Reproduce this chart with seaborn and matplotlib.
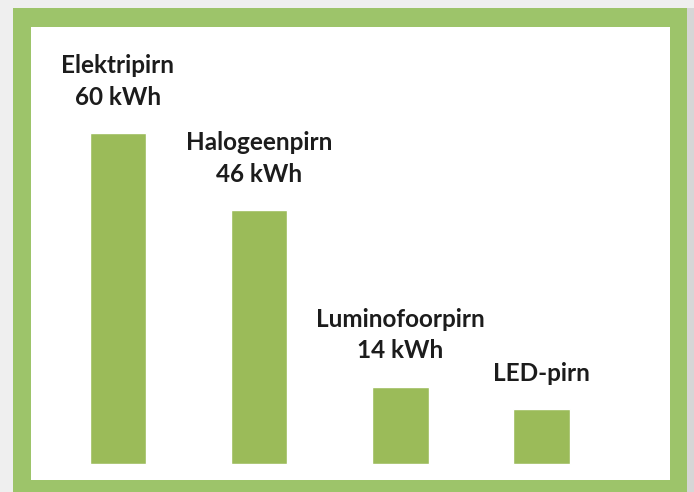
import matplotlib
matplotlib.use("Agg")
import matplotlib.pyplot as plt
from matplotlib.patches import Rectangle
import seaborn as sns
import pandas as pd

# Data
names = ["Elektripirn", "Halogeenpirn", "Luminofoorpirn", "LED-pirn"]
values = [60, 46, 14, 10]
value_texts = ["60 kWh", "46 kWh", "14 kWh", None]

sns.set_theme(style="white")
plt.rcParams["font.family"] = ["Lato", "DejaVu Sans"]

W, H = 694, 492
fig = plt.figure(figsize=(W / 100, H / 100), dpi=100)
fig.patch.set_facecolor("#efefef")

# green frame
fig.patches.append(Rectangle((13 / W, 0), 674 / W, 484 / H, transform=fig.transFigure,
                             facecolor="#9dc46a", edgecolor="none", zorder=-2))
fig.patches.append(Rectangle((687 / W, 0), 7 / W, 484 / H, transform=fig.transFigure,
                             facecolor="#d6d6d6", edgecolor="none", zorder=-2))

ax = fig.add_axes([31 / W, 12 / H, 639 / W, 453 / H])
ax.set_zorder(2)
ax.set_facecolor("white")

df = pd.DataFrame({"name": names, "value": values})
sns.barplot(data=df, x="name", y="value", color="#9bbb59", saturation=1,
            width=0.4, ax=ax)

ax.set_xlim(-0.616, 3.909)
ax.set_ylim(-2.9, 79.2)
for s in ax.spines.values():
    s.set_visible(False)
ax.set_xticks([])
ax.set_yticks([])
ax.set_xlabel("")
ax.set_ylabel("")

for i, (n, v, t) in enumerate(zip(names, values, value_texts)):
    label = n if t is None else f"{n}\n{t}"
    ax.annotate(label, xy=(i, v), xytext=(0, 17.5), textcoords="offset points",
                ha="center", va="bottom", fontsize=17.5, fontweight="bold",
                color="#1c1c1c", linespacing=1.45)

fig.savefig("out.png", dpi=100, facecolor=fig.get_facecolor())
